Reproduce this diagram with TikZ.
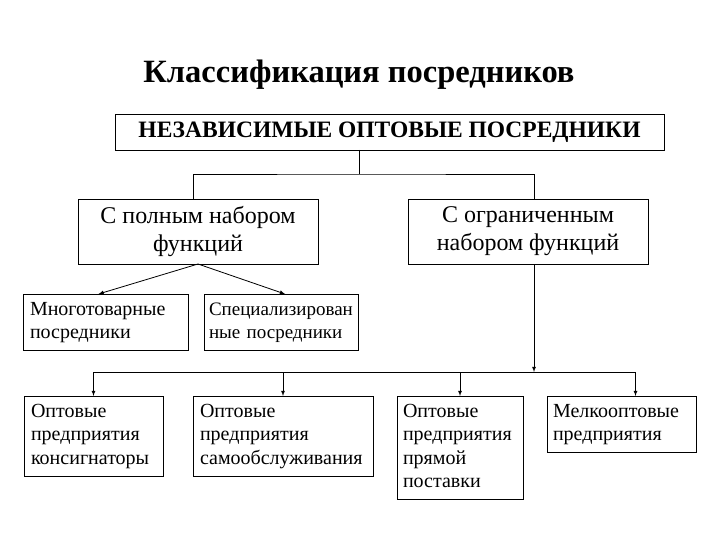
\documentclass[tikz,border=0pt]{standalone}
\usepackage{fontspec}
\setmainfont{Liberation Serif}
\usepackage{xcolor}
\usepackage{tikz}

\begin{document}
\begin{tikzpicture}[x=1pt, y=-1pt]
			\tikzstyle{every node}=[font=\fontsize{20}{23.5}\selectfont];
			\tikzstyle{box}=[draw, thick, inner sep=0pt, outer sep=0pt];
			\tikzstyle{leftbox}=[box, anchor=north, align=left, inner xsep=7pt, inner ysep=4.8pt, execute at begin node=\strut, execute at end node=\strut];
			\tikzstyle{arr}=[thick, -latex];
			\useasboundingbox (0, 0) rectangle (720, 540);
			
			%Title
			\node[anchor=base, font=\fontsize{32.5}{36}\selectfont\bfseries] (title) at (359, 83) {Классификация посредников};
			
			%Top level
			\node[box, minimum width=549pt, minimum height=36pt, font=\fontsize{23.5}{28}\selectfont\bfseries] (top) at (389.5, 132) {НЕЗАВИСИМЫЕ ОПТОВЫЕ ПОСРЕДНИКИ};
			
			%Second level
			\node[box, minimum width=240pt, minimum height=65pt, align=center, font=\fontsize{24}{28}\selectfont] (full) at (198, 231.5) {С полным набором\\функций};
			\node[box, minimum width=240pt, minimum height=65pt, align=center, font=\fontsize{24}{28}\selectfont] (limited) at (528, 231.5) {С ограниченным\\набором функций};
			\coordinate (split) at (359, 174);
			\coordinate (fulltop) at ([xshift=-5pt]full.north);
			\coordinate (limitedtop) at ([xshift=6pt]limited.north);
			\draw[thick] (top.south -| split) -- (split);
			\draw[thick] (fulltop) |- (split) -| (limitedtop);
			
			%Full service
			\node[leftbox, text width=151pt] (multi) at (105.5, 294) {Многотоварные\\посредники};
			\node[leftbox, inner xsep=5pt, text width=144pt, font=\fontsize{19}{23.5}\selectfont] (spec) at (281, 294) {Специализирован\\ные посредники};
			\draw[arr] (full.south) -- ([xshift=-7pt]multi.north);
			\draw[arr] (full.south) -- ([xshift=4pt]spec.north);
			
			%Limited service
			\node[leftbox, text width=125pt] (cons) at (93.5, 396) {Оптовые\\предприятия\\консигнаторы};
			\node[leftbox, text width=166pt] (self) at (283, 396) {Оптовые\\предприятия\\самообслуживания};
			\node[leftbox, inner xsep=6pt, text width=114pt] (direct) at (460, 396) {Оптовые\\предприятия\\прямой\\поставки};
			\node[leftbox, inner xsep=6pt, text width=137pt] (small) at (621.5, 396) {Мелкооптовые\\предприятия};
			\coordinate (bus) at (534, 372);
			\coordinate (smalltop) at ([xshift=14pt]small.north);
			\draw[arr] (limited.south -| bus) -- (bus);
			\draw[thick] (bus -| cons.north) -- (bus -| smalltop);
			\draw[arr] (bus -| cons.north) -- (cons.north);
			\draw[arr] (bus -| self.north) -- (self.north);
			\draw[arr] (bus -| direct.north) -- (direct.north);
			\draw[arr] (bus -| smalltop) -- (smalltop);
\end{tikzpicture}
\end{document}
